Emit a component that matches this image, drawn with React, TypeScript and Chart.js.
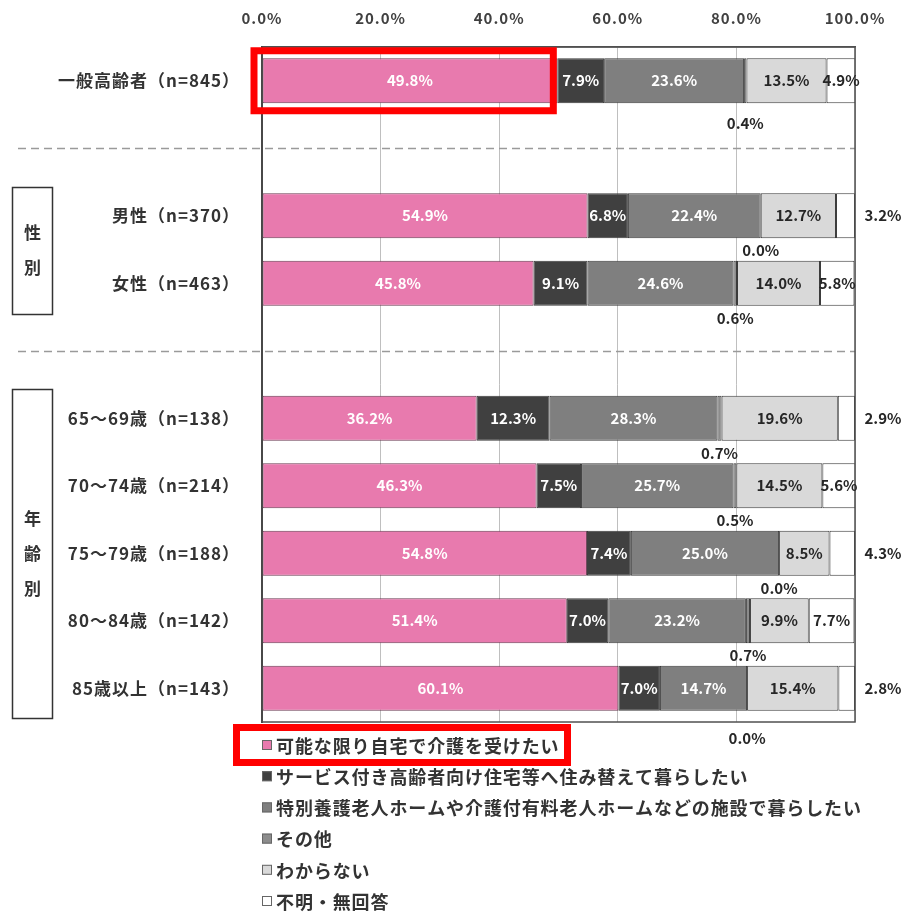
import React, { useEffect, useRef } from 'react';
import { Chart, registerables } from 'chart.js';

Chart.register(...registerables);

const categories = [
  '一般高齢者（n=845）',
  '',
  '男性（n=370）',
  '女性（n=463）',
  '',
  '65～69歳（n=138）',
  '70～74歳（n=214）',
  '75～79歳（n=188）',
  '80～84歳（n=142）',
  '85歳以上（n=143）',
];

const seriesLabels = [
  '可能な限り自宅で介護を受けたい',
  'サービス付き高齢者向け住宅等へ住み替えて暮らしたい',
  '特別養護老人ホームや介護付有料老人ホームなどの施設で暮らしたい',
  'その他',
  'わからない',
  '不明・無回答',
];

const atHome = [49.8, null, 54.9, 45.8, null, 36.2, 46.3, 54.8, 51.4, 60.1];
const serviceHousing = [7.9, null, 6.8, 9.1, null, 12.3, 7.5, 7.4, 7.0, 7.0];
const facility = [23.6, null, 22.4, 24.6, null, 28.3, 25.7, 25.0, 23.2, 14.7];
const other = [0.4, null, 0.0, 0.6, null, 0.7, 0.5, 0.0, 0.7, 0.0];
const unknown = [13.5, null, 12.7, 14.0, null, 19.6, 14.5, 8.5, 9.9, 15.4];
const noAnswer = [4.9, null, 3.2, 5.8, null, 2.9, 5.6, 4.3, 7.7, 2.8];

const xTicks = [0, 20, 40, 60, 80, 100];

const groups = [
  { label: '性別', from: 2, to: 3 },
  { label: '年齢別', from: 5, to: 9 },
];
const separatorRows = [1, 4];

const seriesValues = [atHome, serviceHousing, facility, other, unknown, noAnswer];
const seriesColors = ['#E87AAE', '#404040', '#7F7F7F', '#8C8C8C', '#D9D9D9', '#FFFFFF'];

const FONT = "'Noto Sans CJK JP', 'Noto Sans', sans-serif";

const decorPlugin = {
  id: 'decor',
  beforeDraw(chart: any) {
    chart.ctx.letterSpacing = '1px';
  },
  beforeDatasetsDraw(chart: any) {
    const { ctx, chartArea: a, scales } = chart;
    const y = scales.y;
    ctx.save();
    ctx.strokeStyle = '#9A9A9A';
    ctx.lineWidth = 1.5;
    ctx.setLineDash([8, 5]);
    separatorRows.forEach((i) => {
      const py = Math.round(y.getPixelForValue(i)) + 0.5;
      ctx.beginPath();
      ctx.moveTo(18, py);
      ctx.lineTo(a.right, py);
      ctx.stroke();
    });
    ctx.restore();
  },
  afterDatasetsDraw(chart: any) {
    const { ctx, chartArea: a, scales } = chart;
    const y = scales.y;
    ctx.save();

    // plot frame
    ctx.strokeStyle = '#505050';
    ctx.lineWidth = 1.5;
    ctx.strokeRect(a.left, a.top, a.right - a.left, a.bottom - a.top);

    // value labels
    ctx.letterSpacing = '0px';
    ctx.font = `bold 15px ${FONT}`;
    ctx.textAlign = 'center';
    ctx.textBaseline = 'middle';
    const n = categories.length;
    chart.data.datasets.forEach((ds: any, di: number) => {
      const meta = chart.getDatasetMeta(di);
      meta.data.forEach((bar: any, i: number) => {
        const v = ds.data[i];
        if (v == null) return;
        const p = bar.getProps(['x', 'y', 'base'], true);
        let cx = (p.x + p.base) / 2;
        let cy = p.y;
        const color = di < 3 ? '#FFFFFF' : '#262626';
        if (di === 3) {
          const drop = i === 0 ? 43 : i === n - 1 ? 50 : 35;
          cy = p.y + drop;
        }
        if (di === 5 && v < 4.5) {
          cx = a.right + 28;
        }
        ctx.fillStyle = color;
        ctx.fillText(v.toFixed(1) + '%', cx, cy);
      });
    });

    // group boxes
    ctx.strokeStyle = '#333333';
    ctx.lineWidth = 1.5;
    ctx.fillStyle = '#333333';
    ctx.font = `bold 17px ${FONT}`;
    groups.forEach((g) => {
      const top = y.getPixelForValue(g.from) - 29;
      const bottom = y.getPixelForValue(g.to) + 30;
      ctx.strokeRect(12.5, Math.round(top) + 0.5, 40, Math.round(bottom - top));
      const chars = Array.from(g.label);
      const mid = (top + bottom) / 2;
      chars.forEach((c, k) => {
        ctx.fillText(c, 32.5, mid + (k - (chars.length - 1) / 2) * 35);
      });
    });

    // legend
    const lx = 262;
    const ly0 = 745;
    const step = 31.2;
    ctx.font = `bold 18px ${FONT}`;
    ctx.letterSpacing = '0.9px';
    ctx.textAlign = 'left';
    let firstTextEnd = 0;
    seriesLabels.forEach((lab, k) => {
      const ly = ly0 + k * step;
      ctx.fillStyle = seriesColors[k];
      ctx.fillRect(lx, ly - 5, 10, 10);
      ctx.strokeStyle = '#666666';
      ctx.lineWidth = 1;
      ctx.strokeRect(lx + 0.5, ly - 4.5, 9, 9);
      ctx.fillStyle = '#333333';
      ctx.fillText(lab, lx + 14, ly + 1);
      if (k === 0) firstTextEnd = lx + 14 + ctx.measureText(lab).width;
    });

    // red highlight boxes
    ctx.strokeStyle = '#FF0000';
    ctx.lineWidth = 7;
    const firstBar = chart.getDatasetMeta(0).data[0].getProps(['x', 'y'], true);
    ctx.strokeRect(a.left - 8, firstBar.y - 30, firstBar.x - 4 - (a.left - 8), 60);
    ctx.strokeRect(236.5, ly0 - 17.5, firstTextEnd + 8 - 236.5, 35);

    ctx.restore();
  },
  afterDraw(chart: any) {
    chart.ctx.letterSpacing = '0px';
  },
};

export default function App() {
  const ref = useRef<HTMLCanvasElement | null>(null);

  useEffect(() => {
    const canvas = ref.current;
    if (!canvas) return;
    const chart = new Chart(canvas, {
      type: 'bar',
      data: {
        labels: categories,
        datasets: seriesValues.map((vals, k) => ({
          label: seriesLabels[k],
          data: vals,
          backgroundColor: seriesColors[k],
          borderColor: k === 0 ? '#6a3a52' : '#3A3A3A',
          borderWidth: 1,
          borderSkipped: false,
          barPercentage: 0.67,
          categoryPercentage: 1,
        })),
      },
      options: {
        indexAxis: 'y',
        responsive: false,
        animation: false,
        devicePixelRatio: 1,
        layout: { padding: { left: 0, right: 49, top: 0, bottom: 191 } },
        plugins: {
          legend: { display: false },
          tooltip: { enabled: false },
        },
        scales: {
          x: {
            position: 'top',
            stacked: true,
            min: 0,
            max: 100,
            afterBuildTicks: (scale: any) => {
              scale.ticks = xTicks.map((v) => ({ value: v }));
            },
            afterFit: (scale: any) => {
              scale.height = 47;
            },
            ticks: {
              callback: (v: any) => Number(v).toFixed(1) + '%',
              font: { family: FONT, size: 15, weight: 'bold' },
              color: '#404040',
              padding: 20,
              maxRotation: 0,
            },
            grid: {
              drawTicks: false,
              color: '#BFBFBF',
              lineWidth: 1,
            },
            border: { display: true, color: '#505050', width: 1.5 },
          },
          y: {
            stacked: true,
            afterFit: (scale: any) => {
              scale.width = 262;
            },
            ticks: {
              font: { family: FONT, size: 17, weight: 'bold' },
              color: '#333333',
              padding: 22,
              autoSkip: false,
            },
            grid: { display: false, drawTicks: false },
            border: { display: true, color: '#333333', width: 2 },
          },
        },
      },
      plugins: [decorPlugin],
    } as any);
    return () => chart.destroy();
  }, []);

  return (
    <div style={{ position: 'absolute', left: 0, top: 0, width: 904, height: 913 }}>
      <canvas ref={ref} width={904} height={913} style={{ display: 'block', width: 904, height: 913 }} />
    </div>
  );
}
